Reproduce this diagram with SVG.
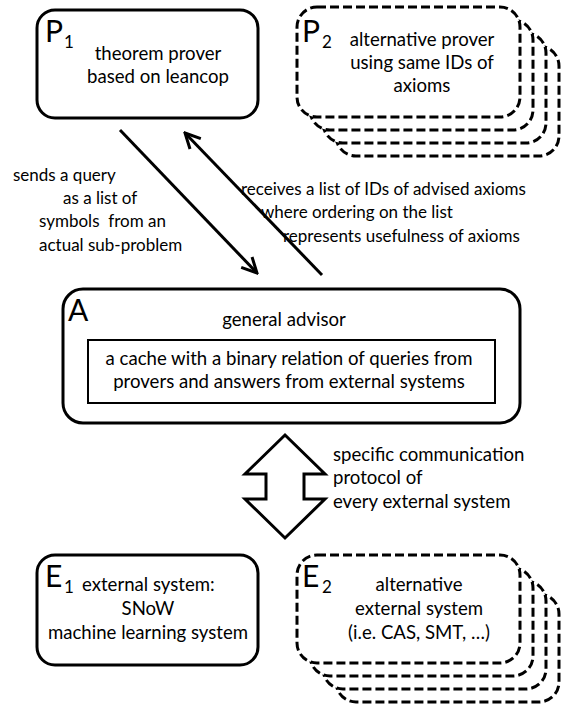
<svg xmlns="http://www.w3.org/2000/svg" width="573" height="709" viewBox="0 0 573 709">
<defs>
<style>
text{font-family:Lato,"Liberation Sans",sans-serif;font-size:18.6px;fill:#000}
.lab{font-size:17px}
.big{font-size:30px}
.sub{font-size:17px}
.c{text-anchor:middle}
.box{fill:#fff;stroke:#000;stroke-width:3}
.dash{fill:#fff;stroke:#000;stroke-width:3;stroke-dasharray:9 4}
.ln{fill:none;stroke:#000;stroke-width:3}
</style>
<marker id="ah" viewBox="0 0 18 18" refX="16" refY="9" markerWidth="18" markerHeight="18" markerUnits="userSpaceOnUse" orient="auto">
<path d="M1,1.5 L16,9 L1,16.5" fill="none" stroke="#000" stroke-width="3"/>
</marker>
</defs>
<rect width="573" height="709" fill="#fff"/>

<g id="P1">
<rect class="box" x="37" y="10" width="221" height="108" rx="18"/>
<text class="big" x="45" y="42">P</text>
<text class="sub" x="64" y="48">1</text>
<text class="c" x="158" y="60">theorem prover</text>
<text class="c" x="158" y="83">based on leancop</text>
</g>

<g id="P2">
<rect class="dash" x="336" y="46" width="223" height="110" rx="20"/>
<rect class="dash" x="323" y="33" width="223" height="110" rx="20"/>
<rect class="dash" x="310" y="20" width="223" height="110" rx="20"/>
<rect class="dash" x="297" y="7" width="223" height="110" rx="20"/>
<text class="big" x="302" y="42">P</text>
<text class="sub" x="322" y="48">2</text>
<text class="c" x="422" y="46">alternative prover</text>
<text class="c" x="422" y="69">using same IDs of</text>
<text class="c" x="422" y="92">axioms</text>
</g>

<g id="A">
<rect class="box" x="63" y="289" width="457" height="134" rx="20"/>
<text class="big" x="68" y="321">A</text>
<text class="c" x="284" y="326">general advisor</text>
<rect x="88" y="340" width="407" height="63" fill="#fff" stroke="#000" stroke-width="2"/>
<text class="c" x="289" y="365">a cache with a binary relation of queries from</text>
<text class="c" x="289" y="388">provers and answers from external systems</text>
</g>

<g id="E1">
<rect class="box" x="37" y="555" width="221" height="110" rx="18"/>
<text class="big" x="45" y="587">E</text>
<text class="sub" x="64" y="593">1</text>
<text x="82" y="591">external system:</text>
<text class="c" x="148" y="615">SNoW</text>
<text class="c" x="148" y="639">machine learning system</text>
</g>

<g id="E2">
<rect class="dash" x="336" y="594" width="223" height="108" rx="20"/>
<rect class="dash" x="323" y="581" width="223" height="108" rx="20"/>
<rect class="dash" x="310" y="568" width="223" height="108" rx="20"/>
<rect class="dash" x="297" y="555" width="223" height="108" rx="20"/>
<text class="big" x="302" y="587">E</text>
<text class="sub" x="322" y="593">2</text>
<text class="c" x="419" y="591">alternative</text>
<text class="c" x="419" y="615">external system</text>
<text class="c" x="419" y="639">(i.e. CAS, SMT, …)</text>
</g>

<g id="connectors">
<line class="ln" x1="120" y1="130" x2="257" y2="273" marker-end="url(#ah)"/>
<line class="ln" x1="322" y1="275" x2="185" y2="133" marker-end="url(#ah)"/>
<polygon id="protocol" points="285,435 325,474 304,474 304,499 325,499 285,538 245,499 266,499 266,474 245,474" fill="#fff" stroke="#000" stroke-width="3" stroke-linejoin="miter"/>
</g>

<g id="labels">
<text class="lab" x="13" y="181">sends a query</text>
<text class="lab" x="63" y="204">as a list of</text>
<text class="lab" x="39" y="227" xml:space="preserve">symbols  from an</text>
<text class="lab" x="39" y="251">actual sub-problem</text>
<text class="lab" x="241" y="195">receives a list of IDs of advised axioms</text>
<text class="lab" x="261" y="218">where ordering on the list</text>
<text class="lab" x="283" y="242">represents usefulness of axioms</text>
<text x="333" y="461">specific communication</text>
<text x="333" y="484">protocol of</text>
<text x="333" y="508">every external system</text>
</g>
</svg>
